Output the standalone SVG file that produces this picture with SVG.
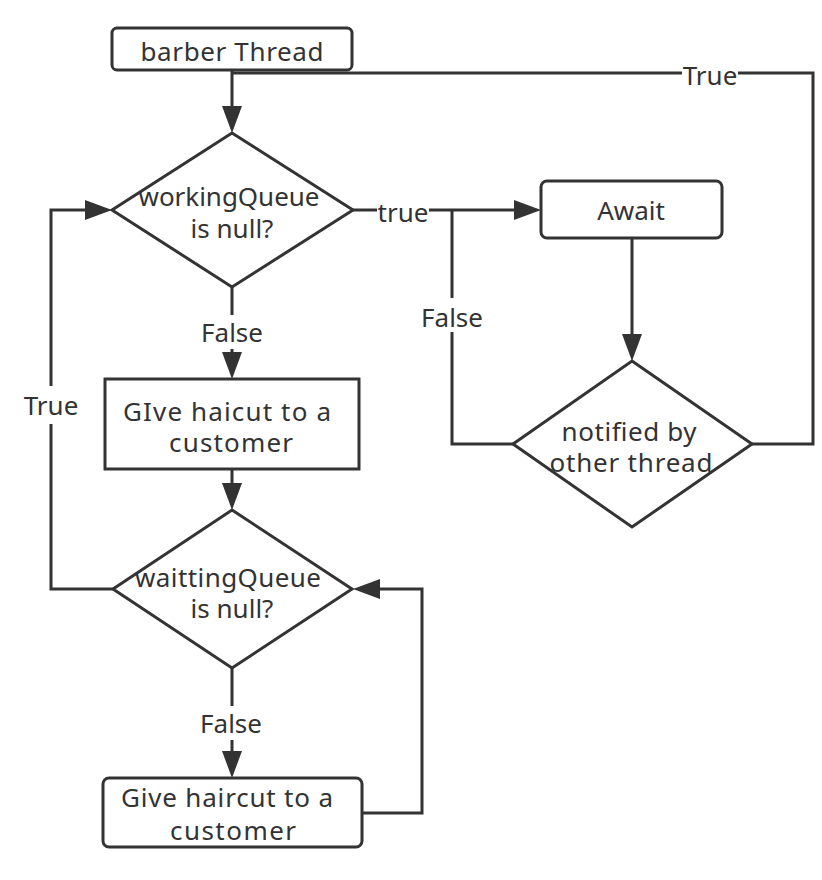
<svg xmlns="http://www.w3.org/2000/svg" width="822" height="880" viewBox="0 0 822 880">
<style>
.shape{fill:#ffffff;stroke:#333333;stroke-width:3;stroke-linejoin:miter}
.line{fill:none;stroke:#333333;stroke-width:3}
.t{font-family:"Noto Sans","Open Sans","DejaVu Sans",sans-serif;font-size:26px;fill:#333333;text-anchor:middle}
.bg{fill:#ffffff;stroke:none}
</style>
<defs>
<marker id="arr" markerUnits="userSpaceOnUse" markerWidth="28" markerHeight="20" refX="1" refY="10" orient="auto">
<path d="M0,0 L27,10 L0,20 Z" fill="#333333"/>
</marker>
</defs>
<rect width="822" height="880" fill="#ffffff"/>
<g id="connectors">
<path class="line" d="M232,70 L232,107" marker-end="url(#arr)"/>
<path class="line" d="M752,444 L813,444 L813,73 L232,73"/>
<path class="line" d="M353,210 L515,210" marker-end="url(#arr)"/>
<path class="line" d="M632,238 L632,335" marker-end="url(#arr)"/>
<path class="line" d="M513,444 L452,444 L452,210"/>
<path class="line" d="M232,287 L232,353" marker-end="url(#arr)"/>
<path class="line" d="M232,469 L232,484" marker-end="url(#arr)"/>
<path class="line" d="M113,589 L51,589 L51,210 L86,210" marker-end="url(#arr)"/>
<path class="line" d="M232,668 L232,752" marker-end="url(#arr)"/>
<path class="line" d="M362,813 L422,813 L422,589 L379,589" marker-end="url(#arr)"/>
<rect class="bg" x="682" y="60" width="56" height="28"/>
<text class="t" x="710" y="85">True</text>
<rect class="bg" x="377" y="198" width="52" height="28"/>
<text class="t" x="403" y="222">true</text>
<rect class="bg" x="419" y="298" width="66" height="34"/>
<text class="t" x="452" y="327">False</text>
<rect class="bg" x="199" y="315" width="66" height="34"/>
<text class="t" x="232" y="342">False</text>
<rect class="bg" x="22" y="386" width="58" height="38"/>
<text class="t" x="51" y="415">True</text>
<rect class="bg" x="199" y="706" width="66" height="34"/>
<text class="t" x="231" y="733">False</text>
</g>
<g id="barber-thread">
<rect class="shape" x="112" y="28" width="240" height="42" rx="5"/>
<text class="t" x="232" y="61" textLength="183" lengthAdjust="spacing">barber Thread</text>
</g>
<g id="working-queue">
<polygon class="shape" points="232,133 353,210 232,287 112,210"/>
<text class="t" x="229" y="206" textLength="181" lengthAdjust="spacing">workingQueue</text>
<text class="t" x="232" y="238">is null?</text>
</g>
<g id="await">
<rect class="shape" x="541" y="181" width="181" height="57" rx="6"/>
<text class="t" x="631" y="220">Await</text>
</g>
<g id="notified">
<polygon class="shape" points="632,361 752,444 632,527 513,444"/>
<text class="t" x="629" y="441" textLength="135" lengthAdjust="spacing">notified by</text>
<text class="t" x="631" y="472" textLength="163" lengthAdjust="spacing">other thread</text>
</g>
<g id="give-haicut">
<rect class="shape" x="105" y="379" width="254" height="90"/>
<text class="t" x="227" y="421" textLength="208" lengthAdjust="spacing">GIve haicut to a</text>
<text class="t" x="231" y="452" textLength="124" lengthAdjust="spacing">customer</text>
</g>
<g id="waitting-queue">
<polygon class="shape" points="232,510 352,589 232,668 113,589"/>
<text class="t" x="228" y="587" textLength="186" lengthAdjust="spacing">waittingQueue</text>
<text class="t" x="232" y="618">is null?</text>
</g>
<g id="give-haircut">
<rect class="shape" x="103" y="778" width="259" height="69" rx="6"/>
<text class="t" x="227" y="807" textLength="212" lengthAdjust="spacing">Give haircut to a</text>
<text class="t" x="233" y="840" textLength="126" lengthAdjust="spacing">customer</text>
</g>
</svg>
